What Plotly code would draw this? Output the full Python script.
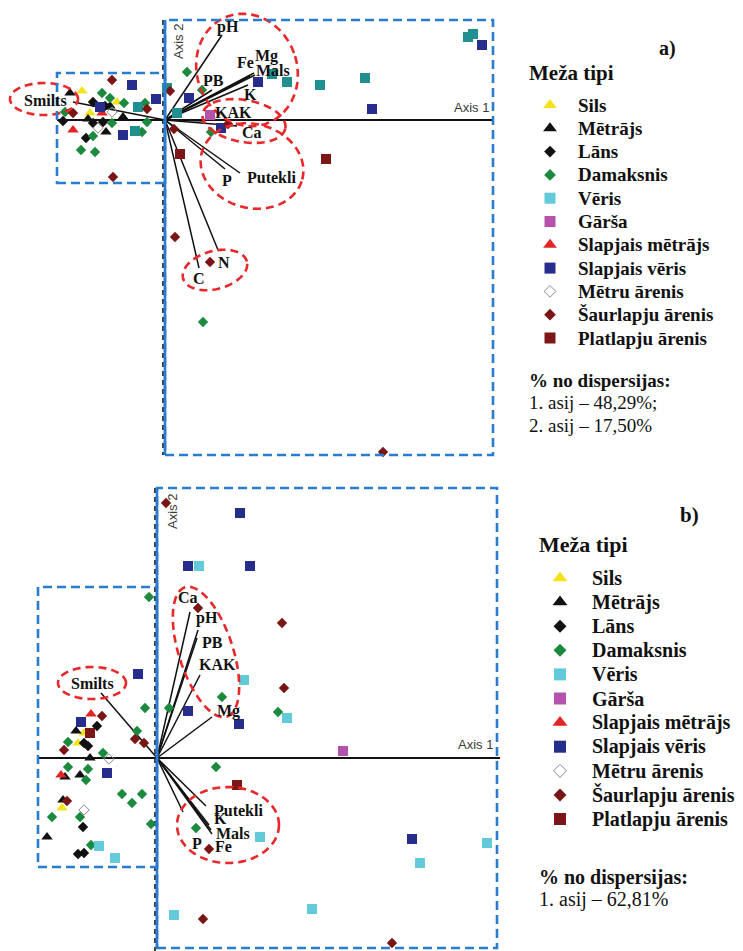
import numpy as np
import plotly.graph_objects as go

W, H = 743, 951

# ---------------------------------------------------------------- categories
forest_types = ["Sils", "Mētrājs", "Lāns", "Damaksnis", "Vēris", "Gārša",
                "Slapjais mētrājs", "Slapjais vēris", "Mētru ārenis",
                "Šaurlapju ārenis", "Platlapju ārenis"]

# ---------------------------------------------------------------- panel a) site scores (axis 1, axis 2)
a_sils = [(-0.83, 0.29), (-0.48, 0.18), (-0.75, 0.07)]
a_metrajs = [(-0.95, 0.27), (-0.55, 0.14), (-0.77, 0.01), (-0.42, 0.03), (-0.59, -0.12)]
a_lans = [(-0.72, 0.18), (-0.60, 0.14), (-1.02, -0.01), (-0.62, -0.02), (-0.72, -0.03), (-0.79, -0.18)]
a_damaksnis = [(-0.63, 0.27), (-0.55, 0.22), (-0.41, 0.17), (-0.20, 0.17), (-1.00, 0.08),
               (-0.53, -0.03), (-0.18, -0.02), (-0.72, -0.16), (-0.23, -0.12), (-0.84, -0.30),
               (-0.70, -0.32), (0.22, 0.48), (0.37, 0.30), (0.46, -0.12), (0.38, -2.02)]
a_veris = [(-0.27, 0.13), (-0.30, -0.11), (0.02, 0.32), (0.12, 0.07), (1.07, 0.46),
           (1.22, 0.38), (1.55, 0.35), (2.00, 0.42), (3.03, 0.83), (3.08, 0.86)]
a_garsa = [(0.45, 0.05)]
a_slapjais_metrajs = [(-0.63, 0.07), (-0.92, -0.10)]
a_slapjais_veris = [(-0.33, 0.35), (-0.09, 0.21), (-0.65, 0.13), (-0.42, -0.15), (0.24, 0.22),
                    (0.56, -0.08), (0.93, 0.38), (2.07, 0.11), (3.17, 0.75)]
a_metru_arenis = [(-0.53, 0.08), (-0.67, -0.08)]
a_saurlapju_arenis = [(-0.53, 0.40), (-0.92, 0.07), (-0.18, 0.11), (-0.52, -0.57), (0.05, 0.29),
                      (0.09, -0.09), (0.63, -0.04), (0.10, -1.17), (0.45, -1.42), (2.18, -3.32)]
a_platlapju_arenis = [(0.15, -0.34), (1.61, -0.39)]

# environmental vectors, panel a)
a_vec_names = ["pH", "Fe", "Mg", "Mals", "K", "PB", "KAK", "Ca", "Putekli", "P", "N", "C", "Smilts"]
a_vec_x = [0.57, 0.85, 0.89, 0.90, 0.83, 0.47, 0.40, 0.72, 0.75, 0.60, 0.53, 0.34, -0.92]
a_vec_y = [0.85, 0.44, 0.47, 0.45, 0.35, 0.30, -0.01, -0.06, -0.53, -0.49, -1.30, -1.48, 0.18]

# ---------------------------------------------------------------- panel b) site scores
b_sils = [(-0.73, 0.25), (-0.79, 0.15), (-0.95, -0.50)]
b_metrajs = [(-0.81, 0.27), (-0.67, 0.00), (-0.92, -0.19), (-0.77, -0.17), (-0.94, -0.42), (-1.10, -0.79)]
b_lans = [(-0.60, 0.32), (-0.73, 0.15), (-0.69, 0.12), (-0.74, -0.69), (-0.79, -0.96), (-0.73, -0.95)]
b_damaksnis = [(-0.08, 1.61), (-0.12, 0.50), (0.12, 0.50), (0.65, 0.61), (1.21, 0.46),
               (-0.20, 0.27), (-0.89, 0.16), (-0.54, 0.05), (0.59, -0.09), (-0.89, -0.09),
               (-0.69, -0.11), (-0.71, -0.22), (-0.35, -0.36), (-0.25, -0.45), (-0.15, -0.36),
               (-1.05, -0.59), (-0.77, -0.59), (-0.06, -0.66), (-0.66, -0.87), (0.39, -0.70)]
b_veris = [(0.42, 1.92), (0.87, 0.78), (1.30, 0.40), (1.03, -0.79), (3.30, -0.85),
           (2.63, -1.05), (0.17, -1.57), (1.55, -1.51), (-0.58, -0.88), (-0.42, -1.00)]
b_garsa = [(1.86, 0.07)]
b_slapjais_metrajs = [(-0.66, 0.44), (-0.96, -0.17)]
b_slapjais_veris = [(0.83, 2.45), (0.31, 1.92), (0.93, 1.92), (-0.19, 0.84), (0.31, 0.47),
                    (0.82, 0.34), (2.55, -0.81), (-0.76, 0.36), (-0.50, -0.15)]
b_metru_arenis = [(-0.48, -0.01), (-0.73, -0.52)]
b_saurlapju_arenis = [(0.09, 2.55), (0.41, 1.50), (1.25, 1.35), (1.27, 0.70), (0.52, -0.91),
                      (0.46, -1.61), (2.35, -1.85), (-0.55, 0.42), (-0.93, 0.08), (-0.22, 0.19),
                      (-0.13, 0.15), (-0.90, -0.43)]
b_platlapju_arenis = [(-0.67, 0.25), (0.80, -0.27)]

b_vec_names = ["Ca", "pH", "PB", "KAK", "Mg", "Smilts", "Putekli", "K", "Mals", "Fe", "P"]
b_vec_x = [0.33, 0.41, 0.40, 0.43, 0.55, -0.56, 0.49, 0.52, 0.55, 0.54, 0.26]
b_vec_y = [1.46, 1.28, 1.20, 0.83, 0.41, 0.65, -0.48, -0.67, -0.76, -0.72, -0.54]

# explained variance text
a_variance = ["1. asij – 48,29%;", "2. asij – 17,50%"]
b_variance = ["1. asij – 62,81%"]

# ---------------------------------------------------------------- styles
symbols = ["triangle-up", "triangle-up", "diamond", "diamond", "square", "square",
           "triangle-up", "square", "diamond-open", "diamond", "square"]
colors = ["#f3e31e", "#111111", "#111111", "#1c8a3e", "#62cad8", "#b452ae",
          "#e32424", "#272d8d", "#8a8a8a", "#7a1515", "#7d1717"]
a_colors = list(colors)
a_colors[4] = "#1f8f8f"          # Vēris sites rendered in teal in panel a)
sizes = {"triangle-up": 10, "diamond": 8, "diamond-open": 8, "square": 10}

SERIF = "Liberation Serif"
SANS = "Liberation Sans"
RED = "#e8282a"
BLUE = "#2a7cd0"

a_groups = [a_sils, a_metrajs, a_lans, a_damaksnis, a_veris, a_garsa, a_slapjais_metrajs,
            a_slapjais_veris, a_metru_arenis, a_saurlapju_arenis, a_platlapju_arenis]
b_groups = [b_sils, b_metrajs, b_lans, b_damaksnis, b_veris, b_garsa, b_slapjais_metrajs,
            b_slapjais_veris, b_metru_arenis, b_saurlapju_arenis, b_platlapju_arenis]

fig = go.Figure()

# pixel scale: 100 px per ordination unit; origins of the two biplots
A_ORIGIN = (165, 120)
B_ORIGIN = (157, 758)


def axis_range(origin):
    ox, oy = origin
    return [-ox / 100, (W - ox) / 100], [(oy - H) / 100, oy / 100]


def ellipse_path(cx, cy, rx, ry, ang, n=72):
    t = np.linspace(0, 2 * np.pi, n)
    a = np.radians(ang)
    x = cx + rx * np.cos(t) * np.cos(a) - ry * np.sin(t) * np.sin(a)
    y = cy + rx * np.cos(t) * np.sin(a) + ry * np.sin(t) * np.cos(a)
    return "M" + " L".join(f"{xi:.4f},{yi:.4f}" for xi, yi in zip(x, y)) + " Z"


shapes = []
annotations = []


def add_panel(groups, cols, vnames, vx, vy, xa, ya, label_shift, ellipses, rects,
              axis1_span, axis2_span, axis1_lbl, axis2_lbl):
    # axis 1 (solid) and axis 2 (dashed)
    shapes.append(dict(type="line", xref=xa, yref=ya, x0=axis1_span[0], x1=axis1_span[1],
                       y0=0, y1=0, line=dict(color="#111111", width=2.2), layer="below"))
    shapes.append(dict(type="line", xref=xa, yref=ya, x0=-0.02, x1=-0.02,
                       y0=axis2_span[0], y1=axis2_span[1],
                       line=dict(color="#111111", width=1.6, dash="5px,4px"), layer="below"))
    # vectors
    lx, ly = [], []
    for x, y in zip(vx, vy):
        lx += [0, x, None]
        ly += [0, y, None]
    fig.add_trace(go.Scatter(x=lx, y=ly, mode="lines", xaxis=xa, yaxis=ya,
                             line=dict(color="#111111", width=1.5), hoverinfo="skip",
                             showlegend=False))
    # sites
    for name, pts, sym, col in zip(forest_types, groups, symbols, cols):
        if not pts:
            continue
        px_, py_ = zip(*pts)
        mk = dict(symbol=sym, size=sizes[sym], color=col)
        if sym == "diamond-open":
            mk["line"] = dict(color=col, width=1)
        else:
            mk["line"] = dict(width=0)
        fig.add_trace(go.Scatter(x=px_, y=py_, mode="markers", name=name, xaxis=xa, yaxis=ya,
                                 marker=mk, showlegend=False))
    # vector labels
    for name, x, y in zip(vnames, vx, vy):
        dx, dy = label_shift[name]
        annotations.append(dict(x=x, y=y, xref=xa, yref=ya, text=name, showarrow=False,
                                xshift=dx, yshift=-dy,
                                font=dict(family=SERIF, size=16, color="#111111", weight="bold")))
    # red dashed ellipses
    for cx, cy, rx, ry, ang in ellipses:
        shapes.append(dict(type="path", xref=xa, yref=ya, path=ellipse_path(cx, cy, rx, ry, ang),
                           line=dict(color=RED, width=2.6, dash="8px,5px")))
    # blue dashed frames
    for x0, x1, y0, y1 in rects:
        shapes.append(dict(type="rect", xref=xa, yref=ya, x0=x0, x1=x1, y0=y0, y1=y1,
                           line=dict(color=BLUE, width=2.6, dash="9px,5px")))
    shapes.append(dict(type="line", xref=xa, yref=ya, x0=0, x1=0, y0=rects[0][3], y1=rects[0][2],
                       line=dict(color=BLUE, width=2.6)))
    annotations.append(dict(x=axis1_lbl[0], y=axis1_lbl[1], xref=xa, yref=ya, text="Axis 1",
                            showarrow=False, xanchor="right",
                            font=dict(family=SANS, size=13, color="#3a3a3a")))
    annotations.append(dict(x=axis2_lbl[0], y=axis2_lbl[1], xref=xa, yref=ya, text="Axis 2",
                            showarrow=False, textangle=-90,
                            font=dict(family=SANS, size=13, color="#3a3a3a")))


a_shift = {"pH": (6, -8), "Fe": (-5, -14), "Mg": (12, -17), "Mals": (18, -5), "K": (2, 9),
           "PB": (1, -10), "KAK": (28, -9), "Ca": (15, 6), "Putekli": (31, 4), "P": (2, 11),
           "N": (6, 12), "C": (0, 10), "Smilts": (-28, -2)}
b_shift = {"Ca": (-2, -15), "pH": (9, -12), "PB": (15, 4), "KAK": (17, -11), "Mg": (16, -6),
           "Smilts": (-9, -10), "Putekli": (32, 4), "K": (11, -7), "Mals": (21, -1),
           "Fe": (12, 16), "P": (14, 31)}

add_panel(a_groups, a_colors, a_vec_names, a_vec_x, a_vec_y, "x", "y", a_shift,
          ellipses=[(-1.21, 0.21, 0.34, 0.16, 0), (0.82, 0.50, 0.50, 0.57, 20),
                    (0.79, -0.01, 0.42, 0.21, -10), (0.87, -0.46, 0.52, 0.42, -15),
                    (0.50, -1.50, 0.33, 0.19, 15)],
          rects=[(0, 3.28, -3.35, 1.00), (-1.08, 0, -0.63, 0.47)],
          axis1_span=(-1.08, 3.28), axis2_span=(1.00, -3.35),
          axis1_lbl=(3.26, 0.13), axis2_lbl=(0.13, 0.78))

add_panel(b_groups, colors, b_vec_names, b_vec_x, b_vec_y, "x2", "y2", b_shift,
          ellipses=[(-0.65, 0.75, 0.34, 0.16, 0), (0.49, 1.06, 0.68, 0.27, -72),
                    (0.71, -0.67, 0.51, 0.38, 0)],
          rects=[(0, 3.40, -1.90, 2.70), (-1.19, 0, -1.09, 1.71)],
          axis1_span=(-1.19, 3.43), axis2_span=(2.70, -1.93),
          axis1_lbl=(3.38, 0.14), axis2_lbl=(0.15, 2.46))


# ---------------------------------------------------------------- legends (layout in pixel space on x3/y3)
def add_legend(tag, tag_pos, title_pos, mx, tx, y0, dy, tsize, msize, var_y, var_lines):
    rows = [y0 + i * dy for i in range(len(forest_types))]
    for name, sym, col, ry in zip(forest_types, symbols, colors, rows):
        mk = dict(symbol=sym, color=col, size=msize[sym])
        mk["line"] = dict(color=col, width=1) if sym == "diamond-open" else dict(width=0)
        fig.add_trace(go.Scatter(x=[mx], y=[ry], mode="markers", xaxis="x3", yaxis="y3",
                                 marker=mk, showlegend=False, hoverinfo="skip"))
        annotations.append(dict(x=tx, y=ry, xref="x3", yref="y3", text=name, showarrow=False,
                                xanchor="left", yanchor="middle",
                                font=dict(family=SERIF, size=tsize, color="#111111", weight="bold")))
    annotations.append(dict(x=tag_pos[0], y=tag_pos[1], xref="x3", yref="y3", text=tag,
                            showarrow=False, xanchor="center", yanchor="middle",
                            font=dict(family=SERIF, size=tsize + 1, color="#111111", weight="bold")))
    annotations.append(dict(x=title_pos[0], y=title_pos[1], xref="x3", yref="y3", text="Meža tipi",
                            showarrow=False, xanchor="left", yanchor="middle",
                            font=dict(family=SERIF, size=tsize + 2, color="#111111", weight="bold")))
    annotations.append(dict(x=title_pos[0], y=var_y, xref="x3", yref="y3", text="% no dispersijas:",
                            showarrow=False, xanchor="left", yanchor="middle",
                            font=dict(family=SERIF, size=tsize, color="#111111", weight="bold")))
    for i, line in enumerate(var_lines):
        annotations.append(dict(x=title_pos[0], y=var_y + (i + 1) * 22.5, xref="x3", yref="y3",
                                text=line, showarrow=False, xanchor="left", yanchor="middle",
                                font=dict(family=SERIF, size=tsize, color="#111111")))


add_legend("a)", (667, 48), (527, 73), 550, 576, 105, 23.3, 19,
           {"triangle-up": 12, "diamond": 9, "diamond-open": 9, "square": 11}, 380, a_variance)
add_legend("b)", (689, 515), (537, 544), 560, 590, 578, 24.1, 20,
           {"triangle-up": 13, "diamond": 10, "diamond-open": 10, "square": 12}, 877, b_variance)

xa_r, ya_r = axis_range(A_ORIGIN)
xb_r, yb_r = axis_range(B_ORIGIN)
hidden = dict(visible=False, fixedrange=True, showgrid=False, zeroline=False)

fig.update_layout(
    width=W, height=H, margin=dict(l=0, r=0, t=0, b=0),
    paper_bgcolor="white", plot_bgcolor="rgba(0,0,0,0)",
    xaxis=dict(domain=[0, 1], range=xa_r, anchor="y", **hidden),
    yaxis=dict(domain=[0, 1], range=ya_r, anchor="x", **hidden),
    xaxis2=dict(domain=[0, 1], range=xb_r, anchor="y2", **hidden),
    yaxis2=dict(domain=[0, 1], range=yb_r, anchor="x2", **hidden),
    xaxis3=dict(domain=[0, 1], range=[0, W], anchor="y3", **hidden),
    yaxis3=dict(domain=[0, 1], range=[H, 0], anchor="x3", **hidden),
    shapes=shapes, annotations=annotations, showlegend=False,
)

fig.write_html("out.html")
